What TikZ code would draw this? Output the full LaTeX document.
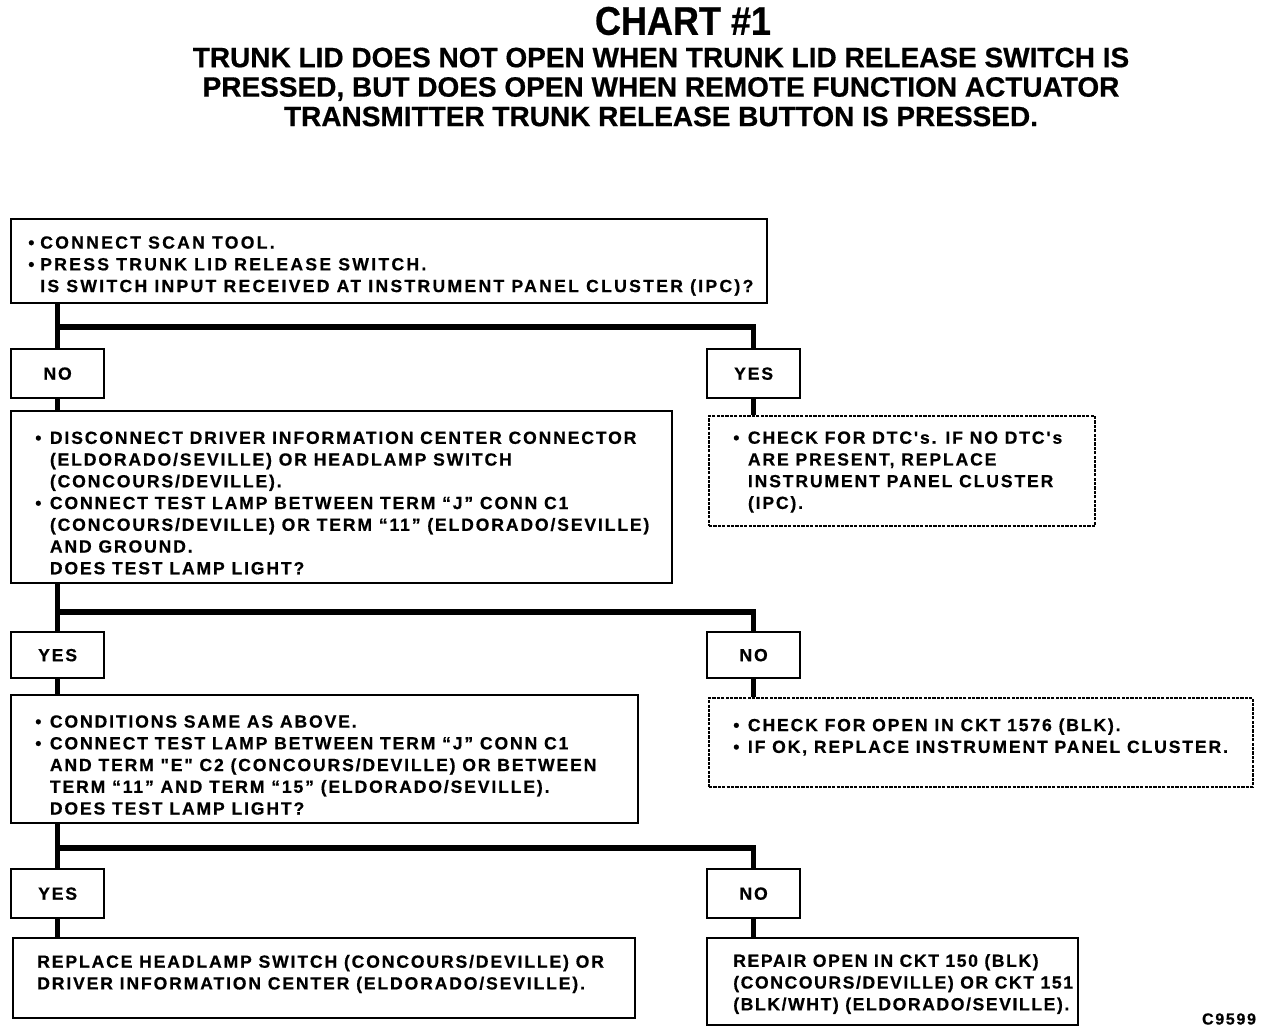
\documentclass[tikz,border=0pt]{standalone}
\usepackage{fontspec}
\newfontfamily\bodyfont[LetterSpace=10.5,BoldFeatures={FakeBold=0.6}]{Liberation Sans}
\newfontfamily\widefont[LetterSpace=13,BoldFeatures={FakeBold=0.6}]{Liberation Sans}
\newfontfamily\narrowfont[LetterSpace=9,BoldFeatures={FakeBold=0.6}]{Liberation Sans}
\newfontfamily\titlefont[FakeStretch=0.9,BoldFeatures={FakeBold=0.6}]{Liberation Sans}
\newfontfamily\subfont[BoldFeatures={FakeBold=0.6}]{Liberation Sans}
\newcommand{\bu}{\makebox[11pt][l]{•}}
\newcommand{\ind}{\hspace*{11pt}}
\newcommand{\bus}{\makebox[9pt][l]{•}}
\newcommand{\inds}{\hspace*{9pt}}
\tikzset{
  box/.style={draw, line width=1.7pt, rectangle, inner sep=0pt, anchor=north west},
  dbox/.style={draw, line width=1.5pt, dash pattern=on 2.4pt off 0.9pt, rectangle, inner sep=0pt, anchor=north west},
  ans/.style={box, minimum width=69.75pt, minimum height=36.75pt, font=\bodyfont\bfseries\fontsize{13.2}{16.3}\selectfont},
  txt/.style={anchor=west, inner sep=0pt, align=left, font=\bodyfont\bfseries\fontsize{13.2}{16.3}\selectfont},
  conn/.style={line width=3.9pt, line join=miter}
}
\begin{document}
\begin{tikzpicture}[x=0.75pt, y=-0.75pt]
\useasboundingbox (0,0) rectangle (1280,1032);
% titles
\node[inner sep=0pt, font=\titlefont\bfseries\fontsize{30}{32}\selectfont] (title) at (683,21) {CHART \#1};
\node[inner sep=0pt, align=center, font=\subfont\bfseries\fontsize{21}{22.1}\selectfont] (sub) at (661,87)
  {TRUNK LID DOES NOT OPEN WHEN TRUNK LID RELEASE SWITCH IS\\
   PRESSED, BUT DOES OPEN WHEN REMOTE FUNCTION ACTUATOR\\
   TRANSMITTER TRUNK RELEASE BUTTON IS PRESSED.};
% boxes
\node[box, minimum width=567pt, minimum height=63pt] (b1) at (10,218) {};
\node[txt, font=\widefont\bfseries\fontsize{13.2}{16.3}\selectfont] (b1t) at (28,266) {\bus CONNECT SCAN TOOL.\\ \bus PRESS TRUNK LID RELEASE SWITCH.\\ \inds IS SWITCH INPUT RECEIVED AT INSTRUMENT PANEL CLUSTER (IPC)?};
\node[ans] (no1) at (10,348) {NO};
\node[ans] (yes1) at (706,348) {YES};
\node[box, minimum width=495.75pt, minimum height=129pt] (b2) at (10,410) {};
\node[txt] (b2t) at (35,503) {\bu DISCONNECT DRIVER INFORMATION CENTER CONNECTOR\\
 \ind (ELDORADO/SEVILLE) OR HEADLAMP SWITCH\\
 \ind (CONCOURS/DEVILLE).\\
 \bu CONNECT TEST LAMP BETWEEN TERM “J” CONN C1\\
 \ind (CONCOURS/DEVILLE) OR TERM “11” (ELDORADO/SEVILLE)\\
 \ind AND GROUND.\\
 \ind DOES TEST LAMP LIGHT?};
\node[dbox, minimum width=289.5pt, minimum height=82.5pt] (d1) at (708,415) {};
\node[txt] (d1t) at (733,472) {\bu CHECK FOR DTC's. IF NO DTC's\\ \ind ARE PRESENT, REPLACE\\ \ind INSTRUMENT PANEL CLUSTER\\ \ind (IPC).};
\node[ans, minimum height=34.5pt] (yes2) at (10,631) {YES};
\node[ans, minimum height=34.5pt] (no2) at (706,631) {NO};
\node[dbox, minimum width=408pt, minimum height=66.75pt] (d2) at (708,697) {};
\node[txt] (d2t) at (733,737) {\bu CHECK FOR OPEN IN CKT 1576 (BLK).\\ \bu IF OK, REPLACE INSTRUMENT PANEL CLUSTER.};
\node[box, minimum width=470.25pt, minimum height=96pt] (b3) at (10,694) {};
\node[txt] (b3t) at (35,765) {\bu CONDITIONS SAME AS ABOVE.\\
 \bu CONNECT TEST LAMP BETWEEN TERM “J” CONN C1\\
 \ind AND TERM "E" C2 (CONCOURS/DEVILLE) OR BETWEEN\\
 \ind TERM “11” AND TERM “15” (ELDORADO/SEVILLE).\\
 \ind DOES TEST LAMP LIGHT?};
\node[ans] (yes3) at (10,868) {YES};
\node[ans] (no3) at (706,868) {NO};
\node[box, minimum width=466.5pt, minimum height=60pt] (b4) at (12,937) {};
\node[txt] (b4t) at (37,974) {REPLACE HEADLAMP SWITCH (CONCOURS/DEVILLE) OR\\ DRIVER INFORMATION CENTER (ELDORADO/SEVILLE).};
\node[box, minimum width=278.25pt, minimum height=65.25pt] (b5) at (706,937) {};
\node[txt, font=\narrowfont\bfseries\fontsize{13.2}{16.3}\selectfont] (b5t) at (733,984) {REPAIR OPEN IN CKT 150 (BLK)\\ (CONCOURS/DEVILLE) OR CKT 151\\ (BLK/WHT) (ELDORADO/SEVILLE).};
\node[inner sep=0pt, font=\bodyfont\bfseries\fontsize{12}{14}\selectfont] (code) at (1229,1019) {C9599};
% connectors
\coordinate (j1) at (56.5,327);
\coordinate (j2) at (56.5,612);
\coordinate (j3) at (56.5,848);
\draw[conn] (b1.south -| no1.north) -- (no1.north);
\draw[conn] (j1) -| (yes1.north);
\draw[conn] (no1.south) -- (no1.south |- b2.north);
\draw[conn] (yes1.south) -- (yes1.south |- d1.north);
\draw[conn] (b2.south -| yes2.north) -- (yes2.north);
\draw[conn] (j2) -| (no2.north);
\draw[conn] (yes2.south) -- (yes2.south |- b3.north);
\draw[conn] (no2.south) -- (no2.south |- d2.north);
\draw[conn] (b3.south -| yes3.north) -- (yes3.north);
\draw[conn] (j3) -| (no3.north);
\draw[conn] (yes3.south) -- (yes3.south |- b4.north);
\draw[conn] (no3.south) -- (no3.south |- b5.north);
\end{tikzpicture}
\end{document}
